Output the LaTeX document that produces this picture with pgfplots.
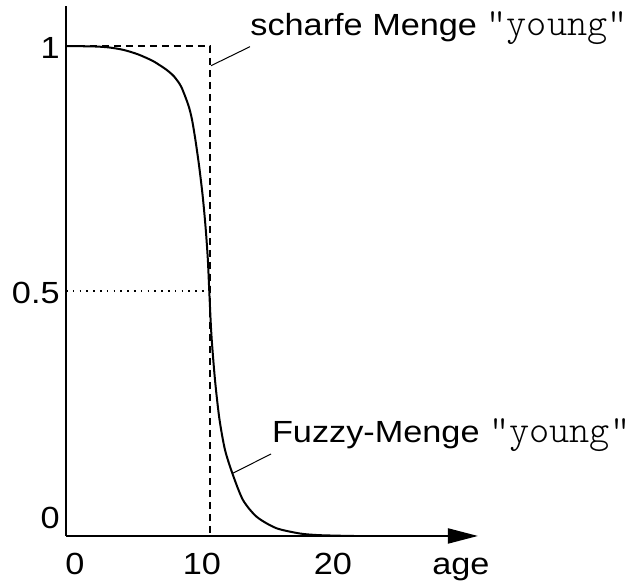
\documentclass[border=0pt]{standalone}
\usepackage{pgfplots}
\pgfplotsset{compat=1.18}
\usepackage{fontspec}
\setmainfont{Liberation Sans}[FakeStretch=1.12]
\newfontfamily\lmlight{Latin Modern Mono Light}
\usetikzlibrary{arrows.meta}
\newcommand\yq{{\fontsize{19.2bp}{22bp}\selectfont\lmlight"young"\kern-2.5bp}}
\begin{document}
\fontsize{15.3bp}{18bp}\selectfont
\begin{tikzpicture}
\begin{axis}[
  x=7.2bp, y=245bp,
  xmin=0, xmax=28.61, ymin=0, ymax=1.0816,
  axis lines=left,
  axis line style={line width=1bp},
  x axis line style={-{Triangle[length=15bp,width=7.5bp]}},
  y axis line style={-},
  xtick={0,10,20},
  xticklabels={{\hspace*{9bp}0},{10\hspace*{8bp}},{20\hspace*{21bp}}},
  ytick={0,0.5,1},
  yticklabels={{\raisebox{10bp}{0}},{0.5},{1}},
  major tick length=0pt,
  tick style={draw=none},
  xticklabel style={anchor=base, yshift=-19.5bp, inner sep=0pt},
  yticklabel style={anchor=base east, yshift=-6.3bp, xshift=-3bp, inner sep=0pt},
  /pgf/number format/assume math mode=true,
  clip=false,
  every tick label/.append style={font=\fontsize{15.3bp}{18bp}\selectfont},
]
% invisible frame fixing the picture's extent
\path (axis cs:-4.583,-0.0918) rectangle (axis cs:39.1,1.0939);

% crisp set
\addplot[black, line width=1bp, dash pattern=on 3.4bp off 2.6bp] coordinates {(0,1) (10,1) (10,0)};
% 0.5 level
\addplot[black, line width=0.8bp, dash pattern=on 0.8bp off 2.6bp] coordinates {(0,0.5) (9.7,0.5)};

% fuzzy set
\addplot[black, line width=1bp, smooth, tension=0.45] coordinates {
(0,1) (2,0.999) (3,0.997) (4,0.992) (5,0.983) (6,0.970) (6.5,0.961)
(7,0.951) (7.5,0.938) (8,0.917) (8.5,0.879) (8.75,0.850) (9,0.806)
(9.25,0.754) (9.5,0.692) (9.7,0.628) (9.85,0.565) (9.95,0.5) (10.1,0.41)
(10.35,0.318) (10.65,0.24) (11.04,0.176) (11.6,0.124) (12.3,0.073)
(13.25,0.039) (14.6,0.016) (16.25,0.005) (17.5,0.0018) (19,0.0005) (20,0)
};

% annotations
\draw[line width=0.5bp] (axis cs:12.78,0.9986) -- (axis cs:10.07,0.9598);
\node[anchor=base west, inner sep=0pt] at (axis cs:12.78,1.0224) {scharfe Menge \yq};
\draw[line width=0.5bp] (axis cs:14.24,0.1673) -- (axis cs:11.58,0.128);
\node[anchor=base west, inner sep=0pt] at (axis cs:14.28,0.1898) {Fuzzy-Menge \yq};
\node[anchor=base, inner sep=0pt] at (axis cs:27.43,-0.0796) {age};
\end{axis}
\end{tikzpicture}
\end{document}
